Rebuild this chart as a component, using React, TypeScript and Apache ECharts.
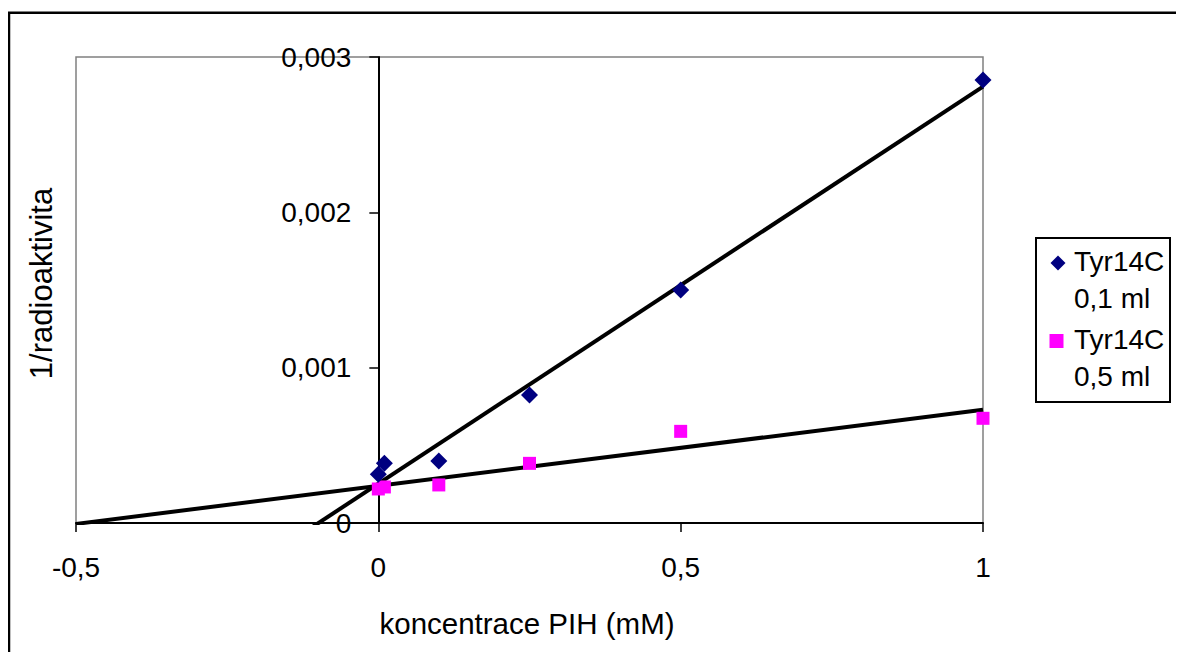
import React, { useEffect, useRef } from "react";
import * as echarts from "echarts";

// ---- data ----
const xValues = [0, 0.01, 0.1, 0.25, 0.5, 1];
const tyr01Values = [0.000314, 0.000384, 0.000399, 0.000824, 0.0015, 0.002852];
const tyr05Values = [0.000219, 0.000232, 0.000245, 0.000384, 0.00059, 0.000674];
const seriesNames = ["Tyr14C 0,1 ml", "Tyr14C 0,5 ml"];
const legendLines = [
  ["Tyr14C", "0,1 ml"],
  ["Tyr14C", "0,5 ml"],
];
const xTickValues = [-0.5, 0, 0.5, 1];
const yTickValues = [0, 0.001, 0.002, 0.003];
const xAxisTitle = "koncentrace PIH (mM)";
const yAxisTitle = "1/radioaktivita";

const FONT = "'Liberation Sans', Arial, Helvetica, sans-serif";
const NAVY = "#000080";
const MAGENTA = "#FF00FF";

const GRID_LEFT = 68;
const GRID_TOP = 49;
const GRID_W = 907;
const GRID_H = 466;

function linFit(xs: number[], ys: number[]) {
  const n = xs.length;
  const mx = xs.reduce((a, b) => a + b, 0) / n;
  const my = ys.reduce((a, b) => a + b, 0) / n;
  let sxy = 0;
  let sxx = 0;
  for (let i = 0; i < n; i++) {
    sxy += (xs[i] - mx) * (ys[i] - my);
    sxx += (xs[i] - mx) * (xs[i] - mx);
  }
  const slope = sxy / sxx;
  const intercept = my - slope * mx;
  return { slope, intercept };
}

function trend(xs: number[], ys: number[]) {
  const { slope, intercept } = linFit(xs, ys);
  const x0 = xTickValues[0];
  const x1 = xTickValues[xTickValues.length - 1];
  return [
    [x0, intercept + slope * x0],
    [x1, intercept + slope * x1],
  ];
}

const fmtX = (v: number) => (v === 0 ? "0" : String(Math.round(v * 10) / 10).replace(".", ","));
const fmtY = (v: number) => (v === 0 ? "0" : v.toFixed(3).replace(".", ","));

export default function App() {
  const ref = useRef<HTMLDivElement>(null);

  useEffect(() => {
    if (!ref.current) return;
    const chart = echarts.init(ref.current, null, { renderer: "svg" });

    const textStyleBase = { fontFamily: FONT, fontSize: 28, fill: "#000" };
    const xMin = xTickValues[0];
    const xMax = xTickValues[xTickValues.length - 1];
    // y axis sits at x = 0, inside the plot area
    const yAxisOffset = -GRID_W * ((0 - xMin) / (xMax - xMin));

    const option: any = {
      animation: false,
      backgroundColor: "#fff",
      grid: {
        left: GRID_LEFT,
        top: GRID_TOP,
        width: GRID_W,
        height: GRID_H,
        containLabel: false,
        outerBoundsMode: "none",
        show: true,
        borderColor: "#808080",
        borderWidth: 1.5,
        backgroundColor: "transparent",
      },
      xAxis: {
        type: "value",
        min: xMin,
        max: xMax,
        interval: 0.5,
        axisLine: { show: true, onZero: false, lineStyle: { color: "#000", width: 2 } },
        axisTick: { show: true, length: 9, inside: false, lineStyle: { color: "#000", width: 1.5 } },
        axisLabel: {
          margin: 30,
          fontFamily: FONT,
          fontSize: 28,
          color: "#000",
          formatter: fmtX,
        },
        splitLine: { show: false },
      },
      yAxis: {
        type: "value",
        position: "left",
        offset: yAxisOffset,
        min: yTickValues[0],
        max: yTickValues[yTickValues.length - 1],
        interval: 0.001,
        axisLine: { show: true, onZero: false, lineStyle: { color: "#000", width: 2 } },
        axisTick: { show: true, length: 9, inside: false, lineStyle: { color: "#000", width: 1.5 } },
        axisLabel: {
          margin: 27,
          fontFamily: FONT,
          fontSize: 28,
          color: "#000",
          formatter: fmtY,
        },
        splitLine: { show: false },
      },
      series: [
        {
          name: seriesNames[0] + " trend",
          type: "line",
          data: trend(xValues, tyr01Values),
          showSymbol: false,
          clip: true,
          lineStyle: { color: "#000", width: 4 },
          z: 1,
          silent: true,
        },
        {
          name: seriesNames[1] + " trend",
          type: "line",
          data: trend(xValues, tyr05Values),
          showSymbol: false,
          clip: true,
          lineStyle: { color: "#000", width: 4 },
          z: 1,
          silent: true,
        },
        {
          name: seriesNames[0],
          type: "scatter",
          symbol: "diamond",
          symbolSize: 17,
          itemStyle: { color: NAVY, opacity: 1 },
          data: xValues.map((x, i) => [x, tyr01Values[i]]),
          z: 3,
        },
        {
          name: seriesNames[1],
          type: "scatter",
          symbol: "rect",
          symbolSize: 13,
          itemStyle: { color: MAGENTA, opacity: 1 },
          data: xValues.map((x, i) => [x, tyr05Values[i]]),
          z: 2,
        },
      ],
      graphic: [
        {
          type: "rect",
          shape: { x: 1, y: 4.8, width: 1400, height: 1000 },
          style: { fill: "none", stroke: "#000", lineWidth: 2.5 },
          silent: true,
        },
        {
          type: "text",
          x: 519,
          y: 615.5,
          style: {
            ...textStyleBase,
            fontSize: 29.5,
            text: xAxisTitle,
            align: "center",
            verticalAlign: "middle",
          },
        },
        {
          type: "text",
          x: 33.5,
          y: 275.5,
          rotation: Math.PI / 2,
          style: {
            ...textStyleBase,
            fontSize: 31,
            text: yAxisTitle,
            align: "center",
            verticalAlign: "middle",
          },
        },
        // legend
        {
          type: "rect",
          shape: { x: 1028, y: 230, width: 134, height: 164 },
          style: { fill: "#fff", stroke: "#000", lineWidth: 2 },
        },
        {
          type: "polygon",
          shape: {
            points: [
              [1050, 247.5],
              [1057.5, 255],
              [1050, 262.5],
              [1042.5, 255],
            ],
          },
          style: { fill: NAVY },
        },
        {
          type: "rect",
          shape: { x: 1041.5, y: 326, width: 14, height: 14 },
          style: { fill: MAGENTA },
        },
        ...legendLines.flatMap((lines, i) =>
          lines.map((t, j) => ({
            type: "text",
            x: 1066,
            y: 253 + i * 78 + j * 37,
            style: {
              ...textStyleBase,
              text: t,
              align: "left",
              verticalAlign: "middle",
            },
          }))
        ),
      ],
    };

    chart.setOption(option);
    return () => chart.dispose();
  }, []);

  return <div ref={ref} style={{ width: 1176, height: 644 }} />;
}
